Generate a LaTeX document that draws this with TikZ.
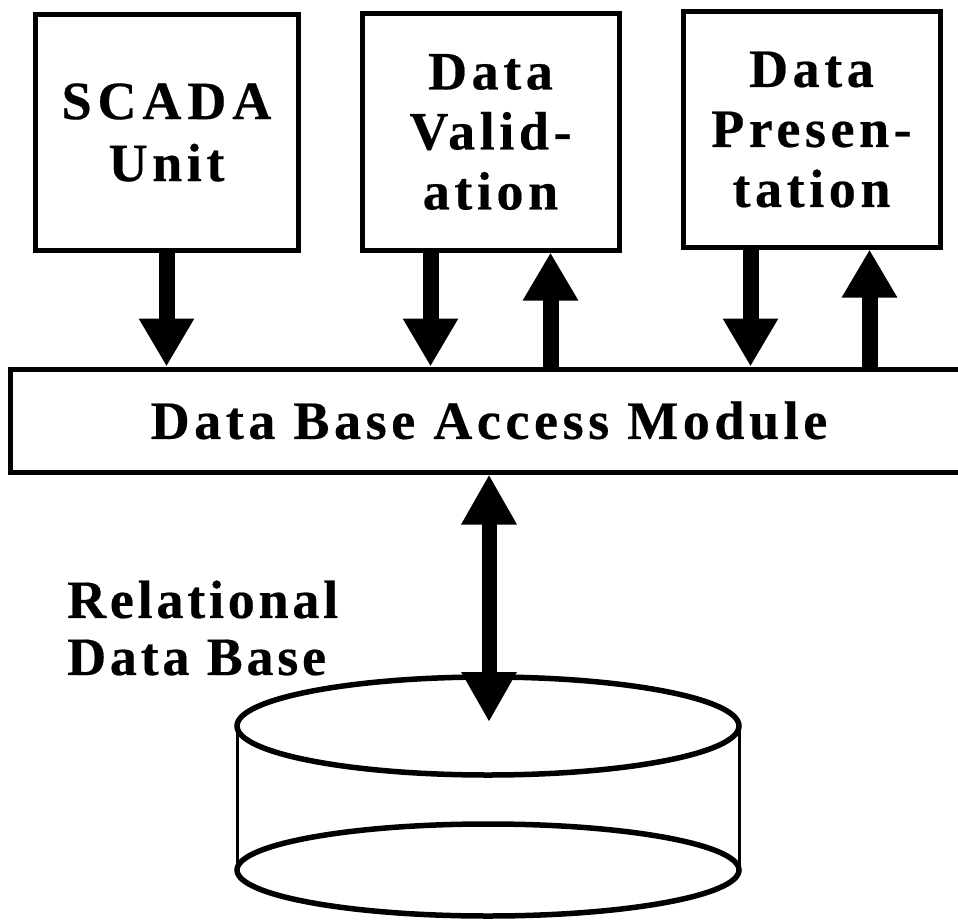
\documentclass[tikz,border=0pt]{standalone}
\usepackage{fontspec}
\setmainfont{Liberation Serif}
\newfontfamily\lblfont[LetterSpace=8.5,FakeBold=0.4]{Liberation Serif}
\newfontfamily\capsfont[LetterSpace=11,FakeBold=0.4]{Liberation Serif}
\newfontfamily\dbfont[LetterSpace=7,FakeBold=0.4]{Liberation Serif}
\usetikzlibrary{arrows.meta}
\tikzset{
  box/.style={draw, line width=5pt, fill=white, inner sep=0pt, align=center,
    font=\lblfont\bfseries\fontsize{54}{60}\selectfont},
  lbltext/.style={inner sep=0pt, align=left,
    font=\dbfont\bfseries\fontsize{54}{57}\selectfont},
  bigarrow/.style={line width=16pt, -{Triangle[width=52pt,length=48pt]}},
  dblarrow/.style={line width=15pt, {Triangle[width=52pt,length=50pt]}-{Triangle[width=52pt,length=50pt]}},
  dbrim/.style={line width=5.5pt},
  dbside/.style={line width=3pt}
}
\begin{document}
\begin{tikzpicture}[x=1pt,y=-1pt]
\useasboundingbox (0,0) rectangle (958,920);
\clip (0,0) rectangle (958,920);
\fill[white] (0,0) rectangle (958,920);
% boxes
\node[box, minimum width=263pt, minimum height=235pt] (scada) at (166.5,132.5)
  {{\capsfont\bfseries SCADA}\\[2pt]Unit};
\node[box, minimum width=257pt, minimum height=236pt] (valid) at (490.5,132) {Data\\Valid-\\ation};
\node[box, minimum width=257pt, minimum height=235pt] (pres) at (811.5,129.5) {Data\\Presen-\\tation};
\node[box, minimum width=958pt, minimum height=103pt] (dbam) at (489,420.5) {Data Base Access Module};
% arrows between modules
\draw[bigarrow] (scada.south) -- (scada.south |- dbam.north);
\draw[bigarrow] ([xshift=-60pt]valid.south) -- ([xshift=-60pt]valid.south |- dbam.north);
\draw[bigarrow] ([xshift=60pt]valid.south |- dbam.north) -- ([xshift=60pt]valid.south);
\draw[bigarrow] ([xshift=-61pt]pres.south) -- ([xshift=-61pt]pres.south |- dbam.north);
\draw[bigarrow] ([xshift=58pt]pres.south |- dbam.north) -- ([xshift=58pt]pres.south);
% database cylinder
\draw[dbside] (237,726) -- (237,870);
\draw[dbside] (739,726) -- (739,870);
\draw[dbrim] (488,870) ellipse [x radius=251pt, y radius=46pt];
\draw[dbrim, fill=white] (488,726) ellipse [x radius=251pt, y radius=49pt];
\coordinate (dbtop) at (489,722);
\node[lbltext, anchor=west] (rdb) at (67,628) {Relational\\Data Base};
% access arrow
\draw[dblarrow] (dbam.south) -- (dbtop);
\end{tikzpicture}
\end{document}
